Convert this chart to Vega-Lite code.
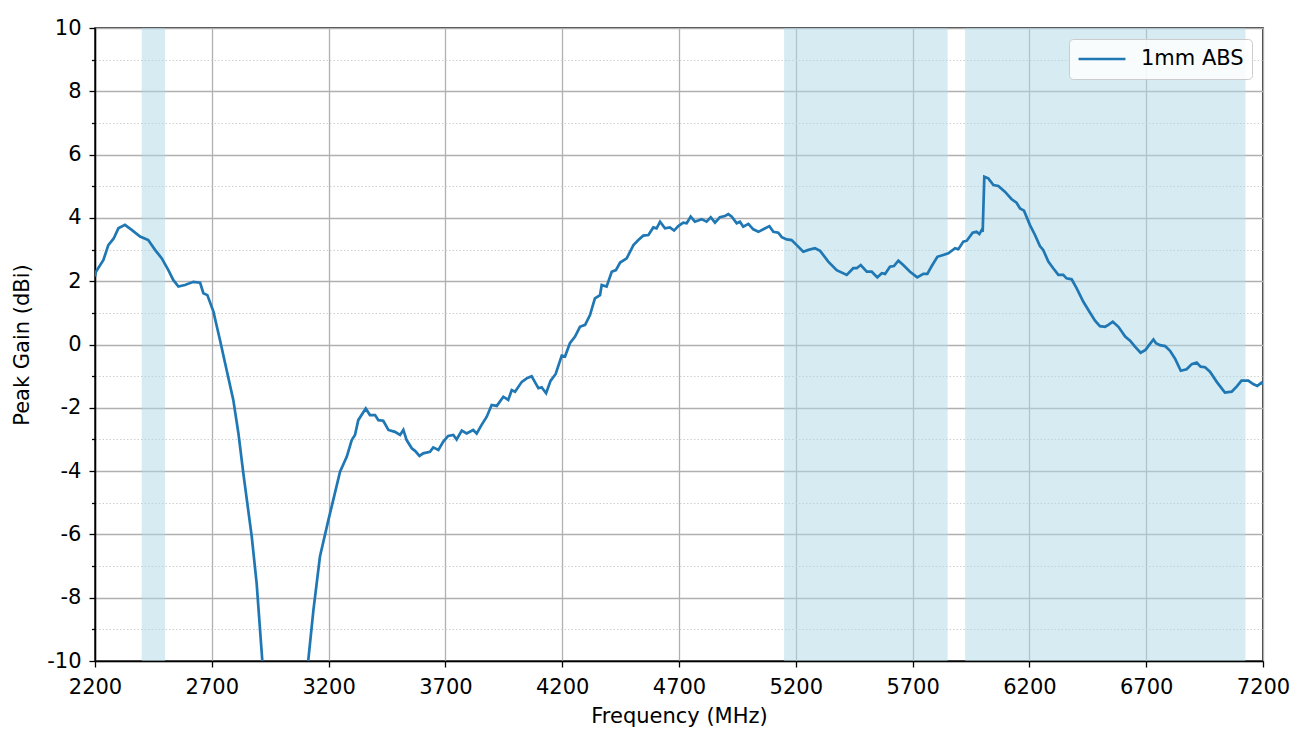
{
  "$schema": "https://vega.github.io/schema/vega-lite/v6.json",
  "description": "Peak gain vs frequency, 1mm ABS",
  "width": 1168,
  "height": 633,
  "autosize": {"type": "none"},
  "padding": {"left": 95, "top": 28, "right": 40, "bottom": 81},
  "config": {
    "font": "DejaVu Sans",
    "view": {"stroke": "black", "strokeWidth": 1.5},
    "axis": {
      "domainColor": "black",
      "domainWidth": 1.5,
      "tickColor": "black",
      "tickWidth": 1.3,
      "labelColor": "black",
      "labelFontSize": 21,
      "labelFont": "DejaVu Sans",
      "titleFont": "DejaVu Sans",
      "titleFontSize": 21,
      "titleFontWeight": "normal",
      "titleColor": "black",
      "gridColor": "#b0b0b0",
      "gridWidth": 1.3,
      "gridOpacity": 1
    }
  },
  "layer": [
    {
      "data": {
        "values": [
          {"lo": 2400, "hi": 2500},
          {"lo": 5150, "hi": 5850},
          {"lo": 5925, "hi": 7125}
        ]
      },
      "mark": {"type": "rect", "color": "#add8e6", "opacity": 0.5},
      "encoding": {
        "x": {
          "field": "lo",
          "type": "quantitative",
          "scale": {"domain": [2200, 7200], "nice": false, "zero": false},
          "axis": {
            "title": "Frequency (MHz)",
            "values": [2200, 2700, 3200, 3700, 4200, 4700, 5200, 5700, 6200, 6700, 7200],
            "format": "d",
            "tickSize": 6,
            "labelPadding": 9,
            "titlePadding": 8,
            "labelFlush": false,
            "labelOverlap": false
          }
        },
        "x2": {"field": "hi"}
      }
    },
    {
      "data": {
        "values": [
          {"f": 2200, "g": 2.15}, {"f": 2204, "g": 2.3}, {"f": 2236, "g": 2.67}, {"f": 2257, "g": 3.14},
          {"f": 2280, "g": 3.35}, {"f": 2300, "g": 3.67}, {"f": 2328, "g": 3.78}, {"f": 2357, "g": 3.62},
          {"f": 2393, "g": 3.41}, {"f": 2428, "g": 3.3}, {"f": 2457, "g": 2.99}, {"f": 2486, "g": 2.72},
          {"f": 2514, "g": 2.35}, {"f": 2535, "g": 2.04}, {"f": 2557, "g": 1.83}, {"f": 2585, "g": 1.88},
          {"f": 2621, "g": 1.98}, {"f": 2650, "g": 1.95}, {"f": 2664, "g": 1.62}, {"f": 2681, "g": 1.56},
          {"f": 2707, "g": 1.04}, {"f": 2735, "g": 0.14}, {"f": 2757, "g": -0.59}, {"f": 2792, "g": -1.75},
          {"f": 2814, "g": -2.81}, {"f": 2835, "g": -4.07}, {"f": 2871, "g": -6.07}, {"f": 2892, "g": -7.55},
          {"f": 2916, "g": -9.97}, {"f": 2940, "g": -12.4}, {"f": 3000, "g": -15}, {"f": 3050, "g": -14},
          {"f": 3090, "g": -11.7}, {"f": 3113, "g": -9.97}, {"f": 3135, "g": -8.39}, {"f": 3163, "g": -6.7},
          {"f": 3199, "g": -5.55}, {"f": 3220, "g": -4.91}, {"f": 3249, "g": -4.02}, {"f": 3278, "g": -3.54},
          {"f": 3299, "g": -3.02}, {"f": 3313, "g": -2.86}, {"f": 3327, "g": -2.39}, {"f": 3341, "g": -2.23},
          {"f": 3359, "g": -2.02}, {"f": 3377, "g": -2.23}, {"f": 3399, "g": -2.23}, {"f": 3413, "g": -2.39},
          {"f": 3434, "g": -2.41}, {"f": 3456, "g": -2.7}, {"f": 3484, "g": -2.76}, {"f": 3506, "g": -2.86},
          {"f": 3520, "g": -2.7}, {"f": 3534, "g": -3.02}, {"f": 3556, "g": -3.28}, {"f": 3570, "g": -3.36},
          {"f": 3589, "g": -3.52}, {"f": 3605, "g": -3.44}, {"f": 3634, "g": -3.39}, {"f": 3648, "g": -3.25},
          {"f": 3670, "g": -3.33}, {"f": 3691, "g": -3.07}, {"f": 3712, "g": -2.89}, {"f": 3734, "g": -2.86},
          {"f": 3748, "g": -3.0}, {"f": 3770, "g": -2.72}, {"f": 3791, "g": -2.81}, {"f": 3819, "g": -2.7},
          {"f": 3834, "g": -2.81}, {"f": 3855, "g": -2.54}, {"f": 3877, "g": -2.28}, {"f": 3898, "g": -1.91},
          {"f": 3920, "g": -1.94}, {"f": 3948, "g": -1.65}, {"f": 3969, "g": -1.75}, {"f": 3984, "g": -1.44},
          {"f": 3998, "g": -1.49}, {"f": 4027, "g": -1.18}, {"f": 4048, "g": -1.07}, {"f": 4069, "g": -1.0},
          {"f": 4098, "g": -1.38}, {"f": 4112, "g": -1.35}, {"f": 4131, "g": -1.54}, {"f": 4150, "g": -1.15},
          {"f": 4172, "g": -0.93}, {"f": 4198, "g": -0.35}, {"f": 4212, "g": -0.38}, {"f": 4233, "g": 0.04},
          {"f": 4255, "g": 0.25}, {"f": 4276, "g": 0.56}, {"f": 4298, "g": 0.62}, {"f": 4319, "g": 0.93},
          {"f": 4340, "g": 1.46}, {"f": 4362, "g": 1.56}, {"f": 4369, "g": 1.88}, {"f": 4390, "g": 1.83},
          {"f": 4412, "g": 2.3}, {"f": 4430, "g": 2.35}, {"f": 4448, "g": 2.59}, {"f": 4476, "g": 2.72},
          {"f": 4505, "g": 3.14}, {"f": 4526, "g": 3.3}, {"f": 4547, "g": 3.44}, {"f": 4569, "g": 3.46},
          {"f": 4590, "g": 3.7}, {"f": 4604, "g": 3.67}, {"f": 4619, "g": 3.88}, {"f": 4640, "g": 3.67},
          {"f": 4661, "g": 3.7}, {"f": 4679, "g": 3.6}, {"f": 4697, "g": 3.74}, {"f": 4718, "g": 3.85},
          {"f": 4733, "g": 3.83}, {"f": 4750, "g": 4.04}, {"f": 4768, "g": 3.88}, {"f": 4797, "g": 3.96},
          {"f": 4818, "g": 3.88}, {"f": 4836, "g": 4.02}, {"f": 4854, "g": 3.85}, {"f": 4875, "g": 4.02},
          {"f": 4897, "g": 4.06}, {"f": 4911, "g": 4.12}, {"f": 4926, "g": 4.04}, {"f": 4947, "g": 3.83},
          {"f": 4961, "g": 3.88}, {"f": 4975, "g": 3.72}, {"f": 4997, "g": 3.81}, {"f": 5018, "g": 3.64},
          {"f": 5040, "g": 3.56}, {"f": 5061, "g": 3.64}, {"f": 5087, "g": 3.74}, {"f": 5104, "g": 3.56},
          {"f": 5125, "g": 3.53}, {"f": 5140, "g": 3.39}, {"f": 5161, "g": 3.32}, {"f": 5182, "g": 3.3},
          {"f": 5204, "g": 3.14}, {"f": 5232, "g": 2.93}, {"f": 5254, "g": 2.99}, {"f": 5282, "g": 3.04},
          {"f": 5304, "g": 2.96}, {"f": 5339, "g": 2.62}, {"f": 5375, "g": 2.35}, {"f": 5418, "g": 2.2},
          {"f": 5446, "g": 2.41}, {"f": 5461, "g": 2.41}, {"f": 5478, "g": 2.51}, {"f": 5504, "g": 2.3},
          {"f": 5525, "g": 2.3}, {"f": 5549, "g": 2.12}, {"f": 5568, "g": 2.25}, {"f": 5582, "g": 2.23},
          {"f": 5603, "g": 2.46}, {"f": 5620, "g": 2.48}, {"f": 5639, "g": 2.65}, {"f": 5660, "g": 2.51},
          {"f": 5689, "g": 2.3}, {"f": 5720, "g": 2.12}, {"f": 5746, "g": 2.23}, {"f": 5763, "g": 2.23},
          {"f": 5782, "g": 2.48}, {"f": 5806, "g": 2.77}, {"f": 5831, "g": 2.83}, {"f": 5853, "g": 2.88},
          {"f": 5882, "g": 3.04}, {"f": 5896, "g": 3.01}, {"f": 5917, "g": 3.25}, {"f": 5932, "g": 3.28},
          {"f": 5957, "g": 3.53}, {"f": 5974, "g": 3.56}, {"f": 5986, "g": 3.49}, {"f": 5996, "g": 3.62},
          {"f": 6000, "g": 3.56}, {"f": 6007, "g": 5.3}, {"f": 6024, "g": 5.25}, {"f": 6046, "g": 5.04},
          {"f": 6067, "g": 5.01}, {"f": 6095, "g": 4.83}, {"f": 6124, "g": 4.59}, {"f": 6145, "g": 4.48},
          {"f": 6160, "g": 4.3}, {"f": 6177, "g": 4.23}, {"f": 6202, "g": 3.78}, {"f": 6224, "g": 3.46},
          {"f": 6245, "g": 3.11}, {"f": 6259, "g": 2.99}, {"f": 6281, "g": 2.62}, {"f": 6302, "g": 2.41},
          {"f": 6324, "g": 2.2}, {"f": 6345, "g": 2.2}, {"f": 6359, "g": 2.09}, {"f": 6381, "g": 2.06},
          {"f": 6402, "g": 1.78}, {"f": 6431, "g": 1.35}, {"f": 6459, "g": 1.01}, {"f": 6481, "g": 0.75},
          {"f": 6502, "g": 0.58}, {"f": 6524, "g": 0.56}, {"f": 6538, "g": 0.62}, {"f": 6557, "g": 0.72},
          {"f": 6581, "g": 0.56}, {"f": 6610, "g": 0.25}, {"f": 6631, "g": 0.12}, {"f": 6652, "g": -0.07},
          {"f": 6676, "g": -0.26}, {"f": 6697, "g": -0.17}, {"f": 6709, "g": -0.05}, {"f": 6731, "g": 0.16},
          {"f": 6742, "g": 0.04}, {"f": 6759, "g": -0.02}, {"f": 6781, "g": -0.05}, {"f": 6802, "g": -0.2},
          {"f": 6823, "g": -0.44}, {"f": 6848, "g": -0.83}, {"f": 6873, "g": -0.78}, {"f": 6895, "g": -0.62},
          {"f": 6916, "g": -0.57}, {"f": 6933, "g": -0.7}, {"f": 6952, "g": -0.72}, {"f": 6973, "g": -0.86},
          {"f": 7002, "g": -1.18}, {"f": 7037, "g": -1.52}, {"f": 7066, "g": -1.49}, {"f": 7087, "g": -1.33},
          {"f": 7108, "g": -1.14}, {"f": 7137, "g": -1.14}, {"f": 7158, "g": -1.25}, {"f": 7175, "g": -1.31},
          {"f": 7193, "g": -1.21}, {"f": 7200, "g": -1.25}
        ]
      },
      "transform": [{"calculate": "'1mm ABS'", "as": "series"}],
      "mark": {"type": "line", "clip": true, "strokeWidth": 2.7},
      "encoding": {
        "x": {"field": "f", "type": "quantitative"},
        "y": {
          "field": "g",
          "type": "quantitative",
          "scale": {"domain": [-10, 10], "nice": false, "zero": false},
          "axis": {
            "title": "Peak Gain (dBi)",
            "values": [-10, -9, -8, -7, -6, -5, -4, -3, -2, -1, 0, 1, 2, 3, 4, 5, 6, 7, 8, 9, 10],
            "labelExpr": "datum.value % 2 === 0 ? '' + datum.value : ''",
            "tickSize": {"condition": {"test": "datum.value % 2 !== 0", "value": 3.5}, "value": 6},
            "gridDash": {"condition": {"test": "datum.value % 2 !== 0", "value": [1.5, 2]}, "value": []},
            "gridColor": {"condition": {"test": "datum.value % 2 !== 0", "value": "#cfcfcf"}, "value": "#b0b0b0"},
            "gridWidth": {"condition": {"test": "datum.value % 2 !== 0", "value": 1}, "value": 1.3},
            "labelPadding": 8,
            "titlePadding": 14,
            "labelFlush": false,
            "labelOverlap": false
          }
        },
        "color": {
          "field": "series",
          "type": "nominal",
          "scale": {"range": ["#1f77b4"]},
          "legend": {
            "title": null,
            "orient": "top-right",
            "offset": 11,
            "padding": 8,
            "clipHeight": 24,
            "fillColor": "rgba(255,255,255,0.85)",
            "strokeColor": "#cccccc",
            "cornerRadius": 4,
            "symbolType": "stroke",
            "symbolSize": 2200,
            "symbolStrokeWidth": 2.7,
            "labelFontSize": 21,
            "labelFont": "DejaVu Sans",
            "labelColor": "black",
            "labelOffset": 14
          }
        }
      }
    }
  ]
}
